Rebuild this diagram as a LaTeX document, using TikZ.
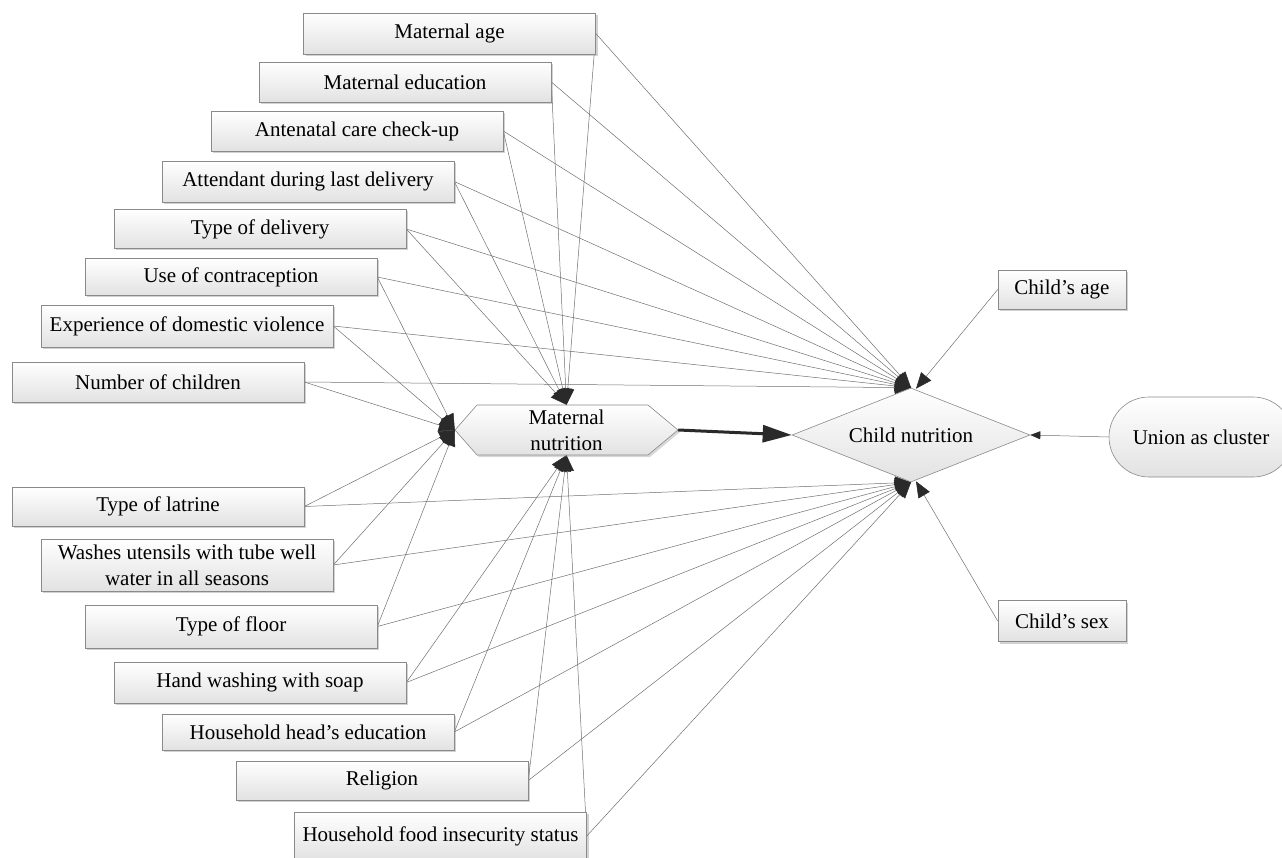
\documentclass[tikz,border=0pt]{standalone}
\usepackage{fontspec}
\setmainfont{Liberation Serif}
\usetikzlibrary{shapes.geometric,shapes.misc,arrows.meta,shadows}
\pgfdeclarelayer{background}
\pgfsetlayers{background,main}
\definecolor{edgegray}{HTML}{707070}
\definecolor{tipgray}{HTML}{2A2A2A}
\definecolor{bordergray}{HTML}{8A8A8A}
\definecolor{boxbottom}{HTML}{E2E2E2}
\tikzset{
  fac/.style={rectangle, draw=bordergray, line width=0.6pt, top color=white, bottom color=boxbottom,
    minimum width=292pt, inner sep=0pt, align=center,
    font=\fontsize{21}{26}\selectfont,
    drop shadow={shadow xshift=2pt, shadow yshift=-2pt, opacity=0.35, fill=gray}},
  conn/.style={draw=edgegray, line width=0.5pt, -{Triangle[length=16pt,width=13pt,fill=tipgray,color=tipgray]}},
  smallconn/.style={draw=edgegray, line width=0.5pt, -{Triangle[length=10pt,width=8pt,fill=tipgray,color=tipgray]}},
  thickconn/.style={draw=tipgray, line width=3pt, -{Triangle[length=29pt,width=17pt,fill=tipgray,color=tipgray]}},
  lbl/.style={font=\fontsize{21}{26}\selectfont, align=center, inner sep=0pt}
}
\begin{document}
\begin{tikzpicture}[x=1pt,y=-1pt]
\useasboundingbox (0,0) rectangle (1282,858);

% factor boxes
\node[fac, minimum height=41pt] (b1)  at (449.5,33.5) {Maternal age};
\node[fac, minimum height=40pt] (b2)  at (405,82)     {Maternal education};
\node[fac, minimum height=40pt] (b3)  at (357,131)    {Antenatal care check-up};
\node[fac, minimum height=41pt] (b4)  at (308,181.5)  {Attendant during last delivery};
\node[fac, minimum height=39pt] (b5)  at (260,229)    {Type of delivery};
\node[fac, minimum height=37pt] (b6)  at (231,277)    {Use of contraception};
\node[fac, minimum height=42pt] (b7)  at (187,326)    {Experience of domestic violence};
\node[fac, minimum height=40pt] (b8)  at (158,382)    {Number of children};
\node[fac, minimum height=39pt] (b9)  at (158,506.5)  {Type of latrine};
\node[fac, minimum height=52pt] (b10) at (187,565)    {Washes utensils with tube well\\water in all seasons};
\node[fac, minimum height=43pt] (b11) at (231,626.5)  {Type of floor};
\node[fac, minimum height=41pt] (b12) at (260,682.5)  {Hand washing with soap};
\node[fac, minimum height=36pt] (b13) at (308,732)    {Household head’s education};
\node[fac, minimum height=39pt] (b14) at (382,780.5)  {Religion};
\node[fac, minimum height=48pt] (b15) at (440.5,836)  {Household food insecurity status};

% maternal nutrition hexagon
\path[draw=bordergray, line width=0.6pt, top color=white, bottom color=boxbottom,
      drop shadow={shadow xshift=2pt, shadow yshift=-2pt, opacity=0.3, fill=gray}]
  (455,430) -- (477,405) -- (648,405) -- (678,430) -- (648,455) -- (477,455) -- cycle;
\node[lbl, minimum width=223pt, minimum height=50pt] (mat) at (566.5,430) {Maternal\\nutrition};

% child nutrition diamond
\node[diamond, draw=bordergray, line width=0.6pt, top color=white, bottom color=boxbottom,
      minimum width=238pt, minimum height=94pt, aspect=2.5, inner sep=0pt,
      font=\fontsize{21}{26}\selectfont] (child) at (911,435) {Child nutrition};

% right side boxes
\node[fac, minimum width=128pt, minimum height=39pt] (age) at (1062,289.5) {Child’s age};
\node[fac, minimum width=128pt, minimum height=41pt] (sex) at (1062,621)   {Child’s sex};
\node[rounded rectangle, draw=bordergray, line width=0.6pt, top color=white, bottom color=boxbottom,
      minimum width=184pt, minimum height=80pt, inner sep=0pt,
      font=\fontsize{21}{26}\selectfont] (union) at (1201,437) {Union as cluster};

\begin{pgfonlayer}{background}
\fill[white] (0,0) rectangle (1282,858);
% to child nutrition (top)
\foreach \b in {b1,b2,b3,b4,b5,b6,b7,b8}
  \draw[conn] (\b.east) -- (child.north);
% to child nutrition (bottom)
\foreach \b in {b9,b10,b11,b12,b13,b14,b15}
  \draw[conn] (\b.east) -- (child.south);
% to maternal nutrition top
\foreach \b in {b1,b2,b3,b4,b5}
  \draw[conn] (\b.east) -- (mat.north);
% to maternal nutrition left
\foreach \b in {b6,b7,b8,b9,b10,b11}
  \draw[conn] (\b.east) -- (mat.west);
% to maternal nutrition bottom
\foreach \b in {b12,b13,b14,b15}
  \draw[conn] (\b.east) -- (mat.south);
% child's age / sex
\draw[conn] (age.west) -- ([xshift=5pt,yshift=-1pt]child.north);
\draw[conn] (sex.west) -- ([xshift=5pt,yshift=1pt]child.south);
% union
\draw[smallconn] (union.west) -- (child.east);
% maternal -> child
\draw[thickconn] (mat.east) -- (child.west);
\end{pgfonlayer}
\end{tikzpicture}
\end{document}
